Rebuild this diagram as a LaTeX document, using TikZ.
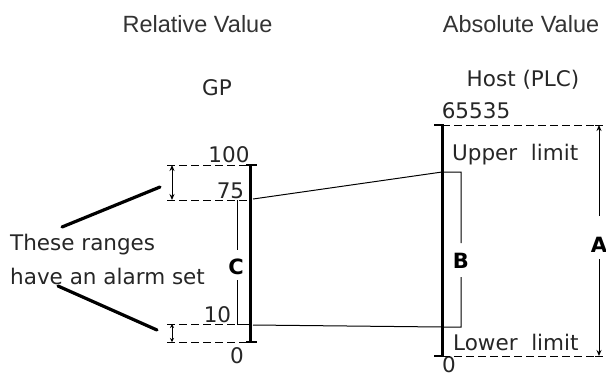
\documentclass[tikz,border=0pt]{standalone}
\usepackage{fontspec}
\setmainfont{DejaVu Sans}
\newfontfamily\headfont{Liberation Sans}
\usetikzlibrary{arrows.meta}
\begin{document}
\begin{tikzpicture}[x=1pt,y=-1pt,
  txt/.style={font=\fontsize{21.5}{24}\selectfont, text=black!85, inner sep=0pt},
  head/.style={font=\headfont\fontsize{23.5}{26}\selectfont, text=black!80, inner sep=0pt, anchor=base},
  lbl/.style={font=\bfseries\fontsize{21}{24}\selectfont, inner sep=0pt, anchor=base},
  axisline/.style={line width=3pt},
  capline/.style={line width=2.5pt},
  dashline/.style={line width=1pt, dash pattern=on 8pt off 4pt},
  thinline/.style={line width=1pt},
  pointer/.style={line width=3.2pt, line cap=round},
  dimtip/.style={line width=1pt, {Stealth[length=6pt,width=5pt]}-{Stealth[length=6pt,width=5pt]}},
  smalltip/.style={line width=1pt, {Stealth[length=4pt,width=4pt]}-{Stealth[length=4pt,width=4pt]}},
  endtip/.style={line width=1pt, -{Stealth[length=6pt,width=5pt]}},
]
\useasboundingbox (0,0) rectangle (606,376);

% headings and labels
\node[head] (rel) at (197.5,32) {Relative Value};
\node[head] (abs) at (521,32) {Absolute Value};
\node[txt,anchor=base] (gp) at (217,95) {GP};
\node[txt,anchor=base] (host) at (523,86) {Host (PLC)};
\node[txt,anchor=base] (v65535) at (476,118) {65535};
\node[txt,anchor=base] (v100) at (229,162) {100};
\node[txt,anchor=base] (v75) at (230.5,198) {75};
\node[txt,anchor=base] (v10) at (217.5,322) {10};
\node[txt,anchor=base] (v0gp) at (237,363) {0};
\node[txt,anchor=base] (v0host) at (449,372) {0};
\node[txt,anchor=base west] (upper) at (452,160) {Upper\ \ limit};
\node[txt,anchor=base west] (lower) at (453,350) {Lower\ \ limit};
\node[txt,anchor=base west] (these) at (10,250) {These ranges};
\node[txt,anchor=base west] (have) at (10,284) {have an alarm set};
\node[lbl] (C) at (236,274) {C};
\node[lbl] (B) at (461,268) {B};
\node[lbl] (A) at (599,252) {A};

% GP scale
\coordinate (gpT) at (250,165);
\coordinate (gpB) at (250,342);
\coordinate (gp75) at (250,200);
\coordinate (gp10) at (250,324);
\coordinate (l100) at (167,165);
\coordinate (l75) at (167,200);
\coordinate (l10) at (167,324);
\coordinate (l0) at (167,342);
\draw[dashline] (l100) -- (gpT);
\draw[dashline] (l75) -- (gp75);
\draw[dashline] (l10) -- (gp10);
\draw[dashline] (l0) -- (gpB);
\draw[axisline] (gpT) -- (gpB);
\draw[capline] ([xshift=-4pt]gpT) -- ([xshift=7pt]gpT);
\draw[capline] ([xshift=-4pt]gpB) -- ([xshift=7pt]gpB);
% range arrows
\coordinate (d1) at (172,165);
\coordinate (d2) at (172,200);
\coordinate (d3) at (172,324);
\coordinate (d4) at (172,342);
\draw[dimtip] (d1) -- (d2);
\draw[smalltip] (d3) -- (d4);
% C bracket
\coordinate (c1) at (237,200);
\coordinate (c2) at (237,250);
\coordinate (c3) at (237,280);
\coordinate (c4) at (237,324);
\draw[thinline] (c1) -- (c2);
\draw[thinline] (c3) -- (c4) -- (gp10);

% Host scale
\coordinate (hT) at (442,125);
\coordinate (hB) at (442,356);
\coordinate (hTr) at (597,125);
\coordinate (hBr) at (597,356);
\draw[dashline] (hT) -- (hTr);
\draw[dashline] (hB) -- (hBr);
\draw[axisline] (hT) -- (hB);
\draw[capline] ([xshift=-8pt]hT) -- ([xshift=1.5pt]hT);
\draw[capline] ([xshift=-8pt]hB) -- ([xshift=1.5pt]hB);

% mapping lines and B bracket
\coordinate (m1) at (253,199);
\coordinate (hu) at (442,172);
\coordinate (bu) at (461,172);
\coordinate (bg1) at (461,243);
\coordinate (bg2) at (461,277);
\coordinate (bl) at (461,327);
\coordinate (hl) at (442,327);
\coordinate (m2) at (253,325);
\draw[thinline] (m1) -- (hu) -- (bu) -- (bg1);
\draw[thinline] (bg2) -- (bl) -- (hl) -- (m2);

% A dimension
\coordinate (aT) at (599,125);
\coordinate (aB) at (599,356);
\coordinate (ag1) at (599,216);
\coordinate (ag2) at (599,259);
\draw[endtip] (ag1) -- (aT);
\draw[endtip] (ag2) -- (aB);
\draw[thinline] ([xshift=-4pt]aT) -- ([xshift=4pt]aT);
\draw[thinline] ([xshift=-4pt]aB) -- ([xshift=4pt]aB);

% pointers
\coordinate (p1a) at (62,227);
\coordinate (p1b) at (160,187);
\coordinate (p2a) at (58,286);
\coordinate (p2b) at (157,330);
\draw[pointer] (p1a) -- (p1b);
\draw[pointer] (p2a) -- (p2b);
\end{tikzpicture}
\end{document}
